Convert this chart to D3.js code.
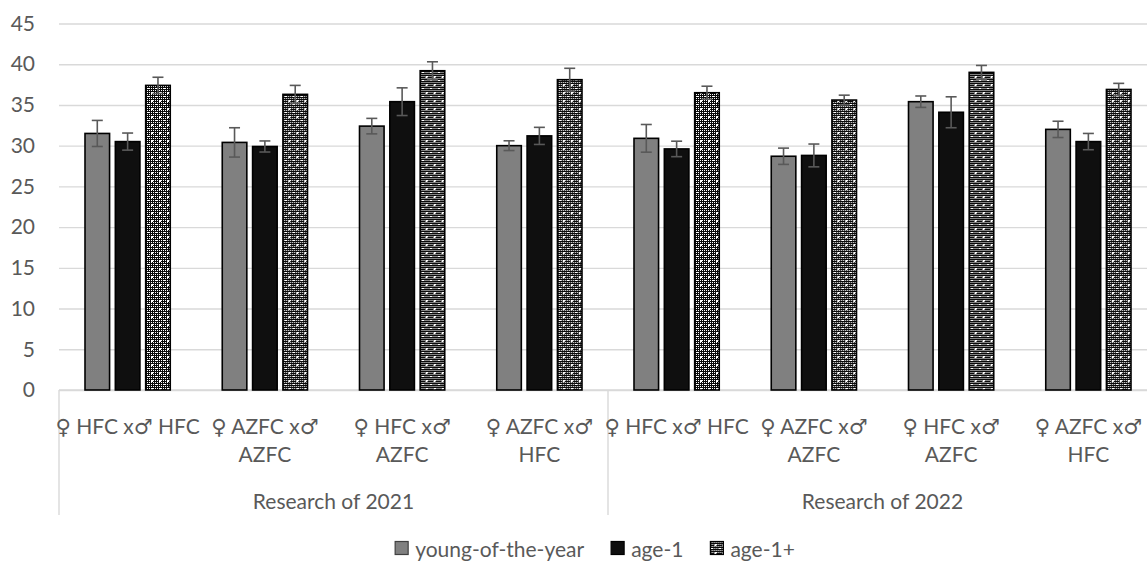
<!DOCTYPE html>
<html>
<head>
<meta charset="utf-8">
<script src="https://cdn.jsdelivr.net/npm/d3@7"></script>
<style>
  html, body { margin: 0; padding: 0; background: #ffffff; }
  svg { display: block; }
  text { font-family: Lato, "Open Sans", "DejaVu Sans", sans-serif; fill: #595959; }
</style>
</head>
<body>
<svg id="chart" width="1147" height="561"></svg>
<script>
// ---------------- data ----------------
const years = ["Research of 2021", "Research of 2022"];
const crossLines = [
  ["♀ HFC x♂ HFC"],
  ["♀ AZFC x♂", "AZFC"],
  ["♀ HFC x♂", "AZFC"],
  ["♀ AZFC x♂", "HFC"]
];
const categories = ["2021-1", "2021-2", "2021-3", "2021-4", "2022-1", "2022-2", "2022-3", "2022-4"];
const seriesNames = ["young-of-the-year", "age-1", "age-1+"];
const youngValues = [31.5, 30.4, 32.4, 30.0, 30.9, 28.7, 35.4, 32.0];
const youngErrors = [1.6, 1.8, 0.95, 0.6, 1.7, 1.0, 0.7, 1.0];
const age1Values  = [30.5, 29.9, 35.4, 31.2, 29.6, 28.8, 34.1, 30.5];
const age1Errors  = [1.05, 0.68, 1.7, 1.05, 0.95, 1.4, 1.9, 1.0];
const age1pValues = [37.4, 36.3, 39.2, 38.1, 36.5, 35.6, 39.0, 36.9];
const age1pErrors = [1.0, 1.1, 1.1, 1.4, 0.8, 0.6, 0.85, 0.75];
const yTicks = [0, 5, 10, 15, 20, 25, 30, 35, 40, 45];

// ---------------- layout ----------------
const svg = d3.select("#chart");
const plotLeft = 59, plotRight = 1157, plotTop = 23.5, plotBottom = 390;
const fontSize = 21;

const y = d3.scaleLinear().domain([0, 45]).range([plotBottom, plotTop]);
const x0 = d3.scaleBand().domain(categories).range([plotLeft, plotRight]).paddingInner(0).paddingOuter(0);
const groupPad = 26;
const x1 = d3.scaleBand().domain(seriesNames)
  .range([groupPad, x0.bandwidth() - groupPad]).paddingInner(0.19).paddingOuter(0);

// pattern for age-1+
const defs = svg.append("defs");
const pat = defs.append("pattern").attr("id", "checker")
  .attr("patternUnits", "userSpaceOnUse").attr("width", 8).attr("height", 8);
pat.append("rect").attr("width", 8).attr("height", 8).attr("fill", "#0a0a0a");
for (let i = 0; i < 8; i += 2) for (let j = 0; j < 8; j += 2) {
  pat.append("rect").attr("x", i).attr("y", j).attr("width", 1).attr("height", 1).attr("fill", "#fff");
}
pat.append("rect").attr("x", 4).attr("y", 4).attr("width", 2).attr("height", 2).attr("fill", "#fff");
pat.append("rect").attr("x", 0).attr("y", 0).attr("width", 2).attr("height", 1).attr("fill", "#fff");

const fills = { "young-of-the-year": "#808080", "age-1": "#0f0f0f", "age-1+": "url(#checker)" };

// gridlines via axis
const grid = svg.append("g").attr("transform", `translate(${plotLeft},0)`)
  .call(d3.axisRight(y).tickValues(yTicks).tickSize(plotRight - plotLeft).tickFormat(""));
grid.select(".domain").remove();
grid.selectAll("line").attr("stroke", "#d9d9d9").attr("stroke-width", 1.4);

// y labels
const yAxis = svg.append("g").attr("transform", `translate(35,0)`)
  .call(d3.axisLeft(y).tickValues(yTicks).tickSize(0).tickPadding(0));
yAxis.select(".domain").remove();
yAxis.selectAll("text").attr("font-size", fontSize).attr("fill", "#595959")
  .style("font-family", "Lato, 'Open Sans', sans-serif");

// category axis lines
svg.append("line").attr("x1", plotLeft).attr("x2", plotRight).attr("y1", plotBottom).attr("y2", plotBottom)
  .attr("stroke", "#d9d9d9").attr("stroke-width", 1.4);
const dividers = [plotLeft, x0(categories[4]), plotRight];
svg.selectAll("line.div").data(dividers).enter().append("line").attr("class", "div")
  .attr("x1", d => d).attr("x2", d => d).attr("y1", plotBottom).attr("y2", 515)
  .attr("stroke", "#d9d9d9").attr("stroke-width", 1.4);

// bars
const rows = categories.map((c, i) => ({
  cat: c,
  vals: [
    { s: seriesNames[0], v: youngValues[i], e: youngErrors[i] },
    { s: seriesNames[1], v: age1Values[i], e: age1Errors[i] },
    { s: seriesNames[2], v: age1pValues[i], e: age1pErrors[i] }
  ]
}));
const g = svg.selectAll("g.grp").data(rows).enter().append("g").attr("class", "grp")
  .attr("transform", d => `translate(${x0(d.cat)},0)`);
g.selectAll("rect").data(d => d.vals).enter().append("rect")
  .attr("x", d => x1(d.s)).attr("width", x1.bandwidth())
  .attr("y", d => y(d.v)).attr("height", d => y(0) - y(d.v))
  .attr("fill", d => fills[d.s]).attr("stroke", "#000").attr("stroke-width", 1.6);

// error bars
const eb = g.selectAll("g.err").data(d => d.vals).enter().append("g").attr("class", "err")
  .attr("transform", d => `translate(${x1(d.s) + x1.bandwidth() / 2},0)`);
eb.append("line").attr("x1", 0).attr("x2", 0).attr("y1", d => y(d.v + d.e)).attr("y2", d => y(d.v - d.e))
  .attr("stroke", "#595959").attr("stroke-width", 1.6);
eb.append("line").attr("x1", -5.5).attr("x2", 5.5).attr("y1", d => y(d.v + d.e)).attr("y2", d => y(d.v + d.e))
  .attr("stroke", "#595959").attr("stroke-width", 1.6);
eb.append("line").attr("x1", -5.5).attr("x2", 5.5).attr("y1", d => y(d.v - d.e)).attr("y2", d => y(d.v - d.e))
  .attr("stroke", "#595959").attr("stroke-width", 1.6);

// category labels
categories.forEach((c, i) => {
  const lines = crossLines[i % 4];
  const t = svg.append("text").attr("text-anchor", "middle").attr("font-size", fontSize)
    .attr("x", x0(c) + x0.bandwidth() / 2).attr("y", 425).attr("dominant-baseline", "central");
  lines.forEach((ln, k) => {
    t.append("tspan").attr("x", x0(c) + x0.bandwidth() / 2).attr("y", 425 + k * 28).text(ln);
  });
});
// year labels
years.forEach((yr, i) => {
  const a = x0(categories[i * 4]), b = x0(categories[i * 4 + 3]) + x0.bandwidth();
  svg.append("text").attr("text-anchor", "middle").attr("font-size", fontSize)
    .attr("dominant-baseline", "central").attr("x", (a + b) / 2).attr("y", 500).text(yr);
});

// legend
const legend = svg.append("g");
let lx = 0;
seriesNames.forEach((s, i) => {
  const it = legend.append("g").attr("transform", `translate(${lx},0)`);
  it.append("rect").attr("x", 0).attr("y", -6.5).attr("width", 13).attr("height", 13)
    .attr("fill", fills[s]).attr("stroke", s === "young-of-the-year" ? "#404040" : "#000").attr("stroke-width", 1.2);
  const tx = it.append("text").attr("x", 20).attr("y", 0).attr("dominant-baseline", "central")
    .attr("font-size", fontSize).text(s);
  const w = tx.node().getComputedTextLength();
  lx += 20 + w + 27;
});
const totalW = lx - 27;
legend.attr("transform", `translate(${595 - totalW / 2},548)`);
</script>
</body>
</html>
